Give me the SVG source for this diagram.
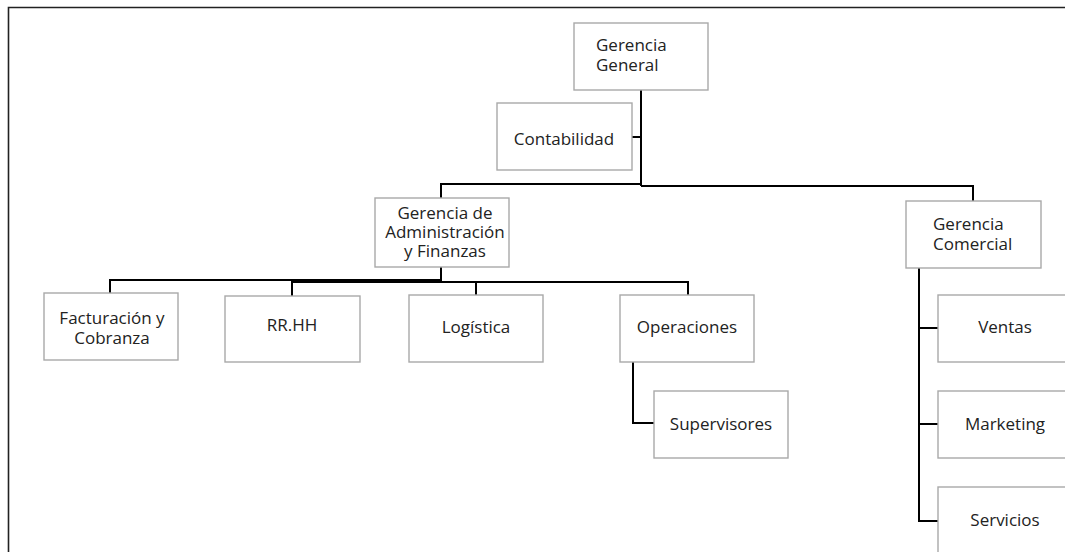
<svg xmlns="http://www.w3.org/2000/svg" width="1065" height="552" viewBox="0 0 1065 552">
<style>
.box{fill:#ffffff;stroke:#a9a9a9;stroke-width:1.4}
.t{font-family:"Open Sans","Noto Sans",sans-serif;font-size:17px;fill:#222222}
.c{text-anchor:middle}
.con{fill:none;stroke:#000000;stroke-width:2}
.frame{fill:none;stroke:#222222;stroke-width:1.6}
</style>
<rect x="0" y="0" width="1065" height="552" fill="#ffffff"/>
<path class="frame" d="M8.5,552 V7.5 H1065"/>
<g id="connectors">
<path class="con" d="M641,90 V186"/>
<path class="con" d="M632,137 H641"/>
<path class="con" d="M641,184 H441 V198"/>
<path class="con" d="M641,186 H973 V201"/>
<path class="con" d="M441,267 V280 H110 V293"/>
<path class="con" d="M292,296 V282 H688 V295"/>
<path class="con" d="M476,282 V295"/>
<path class="con" d="M633,362 V423 H654"/>
<path class="con" d="M919,268 V521 H938"/>
<path class="con" d="M919,328 H938"/>
<path class="con" d="M919,424 H938"/>
</g>
<g id="gerencia-general">
<rect class="box" x="574" y="23" width="134" height="67"/>
<text class="t" x="596" y="51">Gerencia</text>
<text class="t" x="596" y="71">General</text>
</g>
<g id="contabilidad">
<rect class="box" x="497" y="103" width="135" height="67"/>
<text class="t c" x="564" y="145">Contabilidad</text>
</g>
<g id="gerencia-admin">
<rect class="box" x="375" y="198" width="134" height="69"/>
<text class="t c" x="445" y="219">Gerencia de</text>
<text class="t c" x="445" y="238">Administración</text>
<text class="t c" x="445" y="257">y Finanzas</text>
</g>
<g id="gerencia-comercial">
<rect class="box" x="906" y="201" width="135" height="67"/>
<text class="t" x="933" y="230">Gerencia</text>
<text class="t" x="933" y="250">Comercial</text>
</g>
<g id="facturacion">
<rect class="box" x="44" y="293" width="134" height="67"/>
<text class="t c" x="112" y="323.5">Facturación y</text>
<text class="t c" x="112" y="343.5">Cobranza</text>
</g>
<g id="rrhh">
<rect class="box" x="225" y="296" width="135" height="66"/>
<text class="t c" x="292" y="331">RR.HH</text>
</g>
<g id="logistica">
<rect class="box" x="409" y="295" width="134" height="67"/>
<text class="t c" x="476" y="333">Logística</text>
</g>
<g id="operaciones">
<rect class="box" x="620" y="295" width="134" height="67"/>
<text class="t c" x="687" y="333">Operaciones</text>
</g>
<g id="supervisores">
<rect class="box" x="654" y="391" width="134" height="67"/>
<text class="t c" x="721" y="430">Supervisores</text>
</g>
<g id="ventas">
<rect class="box" x="938" y="295" width="134" height="67"/>
<text class="t c" x="1005" y="333">Ventas</text>
</g>
<g id="marketing">
<rect class="box" x="938" y="391" width="134" height="67"/>
<text class="t c" x="1005" y="430">Marketing</text>
</g>
<g id="servicios">
<rect class="box" x="938" y="487" width="134" height="80"/>
<text class="t c" x="1005" y="526">Servicios</text>
</g>
</svg>
